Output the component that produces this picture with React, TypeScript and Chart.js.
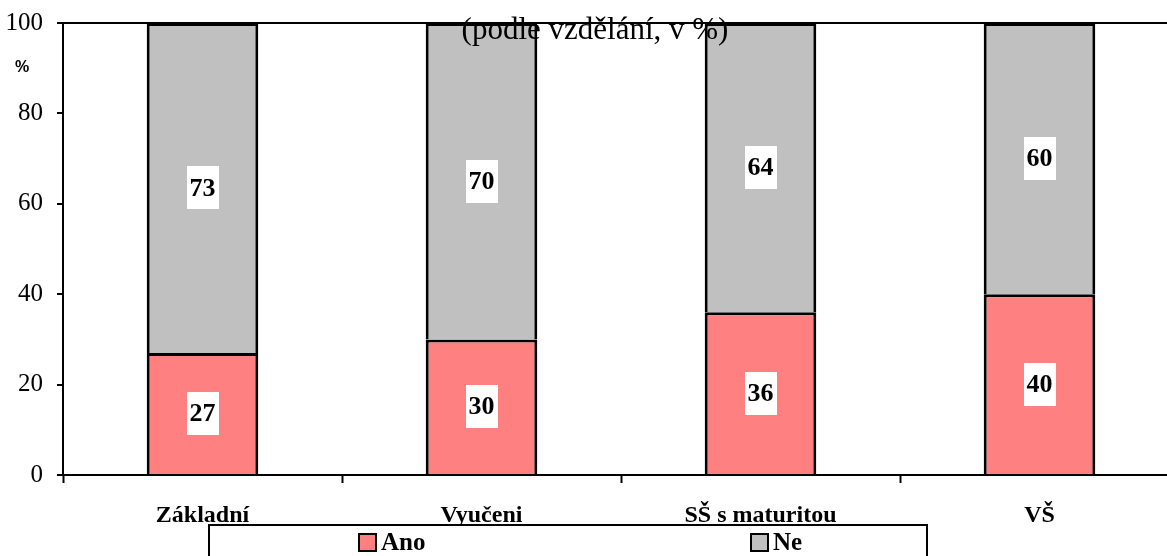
import React, { useEffect, useRef } from "react";
import { Chart, registerables } from "chart.js";

Chart.register(...registerables);

const categories = ["Základní", "Vyučeni", "SŠ s maturitou", "VŠ"];
const anoValues = [27, 30, 36, 40];
const neValues = [73, 70, 64, 60];
const seriesNames = ["Ano", "Ne"];
const yTicks = [0, 20, 40, 60, 80, 100];
const subtitle = "(podle vzdělání, v %)";
const yUnit = "%";

const SERIF = '"Liberation Serif", "Times New Roman", serif';

const labelPlugin = {
  id: "labelsAndLegend",
  afterDatasetsDraw(chart: any) {
    const ctx = chart.ctx;
    ctx.save();
    chart.data.datasets.forEach((ds: any, i: number) => {
      const meta = chart.getDatasetMeta(i);
      meta.data.forEach((bar: any, j: number) => {
        const p = bar.getProps(["x", "y", "base"], true);
        const cy = (p.y + p.base) / 2;
        const w = 32, h = 43;
        ctx.fillStyle = "#ffffff";
        ctx.fillRect(Math.round(p.x - w / 2), Math.round(cy - h / 2), w, h);
        ctx.fillStyle = "#000";
        ctx.font = "bold 26px " + SERIF;
        ctx.textAlign = "center";
        ctx.textBaseline = "middle";
        ctx.fillText(String(ds.data[j]), p.x, cy + 1);
      });
    });
    ctx.fillStyle = "#000";
    ctx.font = "31px " + SERIF;
    ctx.textAlign = "center";
    ctx.textBaseline = "alphabetic";
    ctx.fillText(subtitle, 595, 39);
    ctx.restore();
  },
  afterDraw(chart: any) {
    const ctx = chart.ctx;
    ctx.save();
    ctx.fillStyle = "#000";
    ctx.font = 'bold 16px "Liberation Sans", Arial, sans-serif';
    ctx.textAlign = "center";
    ctx.textBaseline = "middle";
    ctx.fillText(yUnit, 22, 68);
    const bx = 209, by = 525, bw = 718, bh = 40;
    ctx.fillStyle = "#fff";
    ctx.fillRect(bx, by, bw, bh);
    ctx.strokeStyle = "#000";
    ctx.lineWidth = 2;
    ctx.strokeRect(bx, by, bw, bh);
    const itemX = [359, 751];
    chart.data.datasets.forEach((ds: any, i: number) => {
      const x = itemX[i];
      const y = 534;
      ctx.fillStyle = ds.backgroundColor;
      ctx.fillRect(x, y, 17, 17);
      ctx.strokeStyle = "#000";
      ctx.lineWidth = 2;
      ctx.strokeRect(x, y, 17, 17);
      ctx.fillStyle = "#000";
      ctx.font = "bold 25px " + SERIF;
      ctx.textAlign = "left";
      ctx.textBaseline = "middle";
      ctx.fillText(ds.label, x + 22, y + 10);
    });
    ctx.restore();
  },
};

export default function App() {
  const ref = useRef<HTMLCanvasElement>(null);
  useEffect(() => {
    if (!ref.current) return;
    const chart = new Chart(ref.current, {
      type: "bar",
      data: {
        labels: categories,
        datasets: [
          {
            label: seriesNames[0],
            data: anoValues,
            backgroundColor: "#FF8080",
            borderColor: "#000",
            borderWidth: { top: 3, left: 3, right: 3, bottom: 0 },
            borderSkipped: false,
            barPercentage: 0.4,
            categoryPercentage: 1,
          },
          {
            label: seriesNames[1],
            data: neValues,
            backgroundColor: "#C0C0C0",
            borderColor: "#000",
            borderWidth: { top: 3, left: 3, right: 3, bottom: 0 },
            borderSkipped: false,
            barPercentage: 0.4,
            categoryPercentage: 1,
          },
        ],
      },
      options: {
        responsive: false,
        animation: false,
        devicePixelRatio: 1,
        layout: { padding: { top: 23, left: 0, right: 0, bottom: 0 } },
        plugins: {
          legend: { display: false },
          tooltip: { enabled: false },
          title: { display: false },
        },
        scales: {
          x: {
            stacked: true,
            offset: true,
            grid: {
              offset: true,
              drawOnChartArea: false,
              drawTicks: true,
              tickLength: 8,
              tickColor: "#000",
              tickWidth: 2,
            },
            border: { display: true, color: "#000", width: 2 },
            ticks: {
              color: "#000",
              font: { family: SERIF, size: 24, weight: "bold" },
              padding: 18,
              maxRotation: 0,
              autoSkip: false,
            },
            afterFit(scale: any) {
              scale.height = 81;
              scale.paddingLeft = 0;
              scale.paddingRight = 0;
            },
          },
          y: {
            stacked: true,
            min: 0,
            max: 100,
            afterBuildTicks(scale: any) {
              scale.ticks = yTicks.map((v) => ({ value: v }));
            },
            grid: {
              color: (c: any) => (c.tick && c.tick.value === 100 ? "#000" : "rgba(0,0,0,0)"),
              lineWidth: 2,
              tickColor: "#000",
              tickLength: 6,
              tickWidth: 2,
              drawTicks: true,
            },
            border: { display: true, color: "#000", width: 2 },
            ticks: {
              color: "#000",
              font: { family: SERIF, size: 25 },
              padding: 14,
            },
            afterFit(scale: any) {
              scale.width = 63;
              scale.paddingTop = 0;
              scale.paddingBottom = 0;
            },
          },
        },
      },
      plugins: [labelPlugin],
    } as any);
    return () => chart.destroy();
  }, []);
  return (
    <div style={{ position: "fixed", left: 0, top: 0, width: 1167, height: 556, overflow: "hidden", background: "#fff" }}>
      <canvas ref={ref} width={1179} height={556} style={{ display: "block" }} />
    </div>
  );
}
